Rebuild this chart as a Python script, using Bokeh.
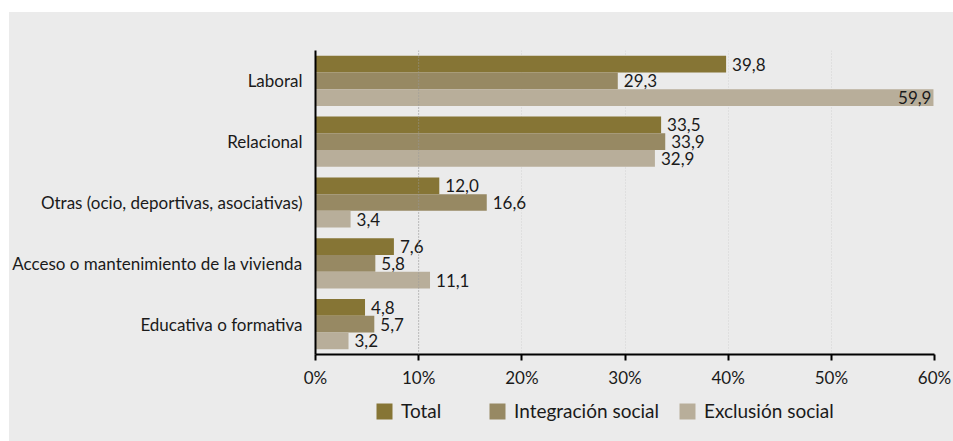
from bokeh.plotting import figure
from bokeh.layouts import column
from bokeh.models import ColumnDataSource, FactorRange, Range1d, Legend, LegendItem, Span
from bokeh.transform import dodge
from bokeh.embed import file_html
from bokeh.resources import INLINE
from bokeh.core.properties import value

categories = [
    "Laboral",
    "Relacional",
    "Otras (ocio, deportivas, asociativas)",
    "Acceso o mantenimiento de la vivienda",
    "Educativa o formativa",
]
total = [39.8, 33.5, 12.0, 7.6, 4.8]
integracion = [29.3, 33.9, 16.6, 5.8, 5.7]
exclusion = [59.9, 32.9, 3.4, 11.1, 3.2]
series_names = ["Total", "Integración social", "Exclusión social"]
series_values = [total, integracion, exclusion]
colors = ["#867535", "#978963", "#b8ae9a"]
x_ticks = [0, 10, 20, 30, 40, 50, 60]
x_tick_labels = ["0%", "10%", "20%", "30%", "40%", "50%", "60%"]

FONT = "Lato"
BG = "#ebebeb"
TXT = "#1a1a1a"
W = 944

p = figure(
    width=W, height=378,
    y_range=FactorRange(*reversed(categories)),
    x_range=Range1d(0, 60),
    output_backend="svg", toolbar_location=None,
    min_border_left=305, min_border_right=19,
    min_border_top=38, min_border_bottom=35,
    background_fill_color=BG, border_fill_color=BG,
)
p.outline_line_color = None
p.y_range.range_padding = 0

bar_h = 0.275
offsets = [bar_h, 0.0, -bar_h]

for vals, col, off in zip(series_values, colors, offsets):
    src = ColumnDataSource(dict(
        cat=categories,
        val=vals,
        label=[f"{v:.1f}".replace(".", ",") for v in vals],
        align=["right" if v > 55 else "left" for v in vals],
        xoff=[-2 if v > 55 else 6 for v in vals],
    ))
    p.hbar(y=dodge("cat", off, range=p.y_range), right="val", left=0,
           height=bar_h, fill_color=col, line_color=None, source=src)
    p.text(x="val", y=dodge("cat", off, range=p.y_range), text="label",
           x_offset="xoff", text_align="align", text_baseline="middle",
           text_font=value(FONT), text_font_size="17px", text_color=TXT,
           source=src)

# grid
p.ygrid.grid_line_color = None
p.xgrid.grid_line_color = "#d2d2d2"
p.xgrid.grid_line_dash = "1 2"
p.xgrid.ticker = x_ticks
p.add_layout(Span(location=10, dimension="height", line_color="#9a9a9a",
                  line_dash="1 2", line_width=1))

# x axis
xa = p.xaxis[0]
xa.ticker = x_ticks
xa.major_label_overrides = {t: l for t, l in zip(x_ticks, x_tick_labels)}
xa.axis_line_color = "black"
xa.axis_line_width = 2
xa.major_tick_line_color = "black"
xa.major_tick_line_width = 2
xa.major_tick_out = 6
xa.major_tick_in = 0
xa.minor_tick_line_color = None
xa.major_label_standoff = 6
xa.major_label_text_font = FONT
xa.major_label_text_font_size = "17px"
xa.major_label_text_color = TXT

# y axis
ya = p.yaxis[0]
ya.axis_line_color = "black"
ya.axis_line_width = 2
ya.major_tick_line_color = None
ya.minor_tick_line_color = None
ya.major_label_standoff = 7
ya.major_label_text_font = FONT
ya.major_label_text_font_size = "17px"
ya.major_label_text_color = TXT

# legend strip below the chart
leg_fig = figure(
    width=W, height=51, x_range=Range1d(0, 1), y_range=Range1d(0, 1),
    output_backend="svg", toolbar_location=None,
    x_axis_location=None, y_axis_location=None, min_border=0,
    background_fill_color=BG, border_fill_color=BG,
)
leg_fig.outline_line_color = None
leg_fig.grid.grid_line_color = None

legend_items = []
for name, col in zip(series_names, colors):
    # zero-width proxy bar: only used to draw the legend swatch
    r = leg_fig.hbar(y=[0.5], right=[0], left=[0], height=0.5,
                     fill_color=col, line_color=None)
    legend_items.append(LegendItem(label=name, renderers=[r]))

legend = Legend(
    items=legend_items, orientation="horizontal", location=(59, 19),
    glyph_width=20, glyph_height=20, label_standoff=7, spacing=18,
    label_width=68, padding=0, margin=0,
    background_fill_alpha=0, border_line_alpha=0,
    label_text_font=FONT, label_text_font_size="19px", label_text_color=TXT,
)
leg_fig.add_layout(legend, "center")

layout = column(p, leg_fig, spacing=0, margin=(12, 0, 0, 9),
                styles={"background-color": BG})

open("out.html", "w").write(file_html(layout, INLINE))
